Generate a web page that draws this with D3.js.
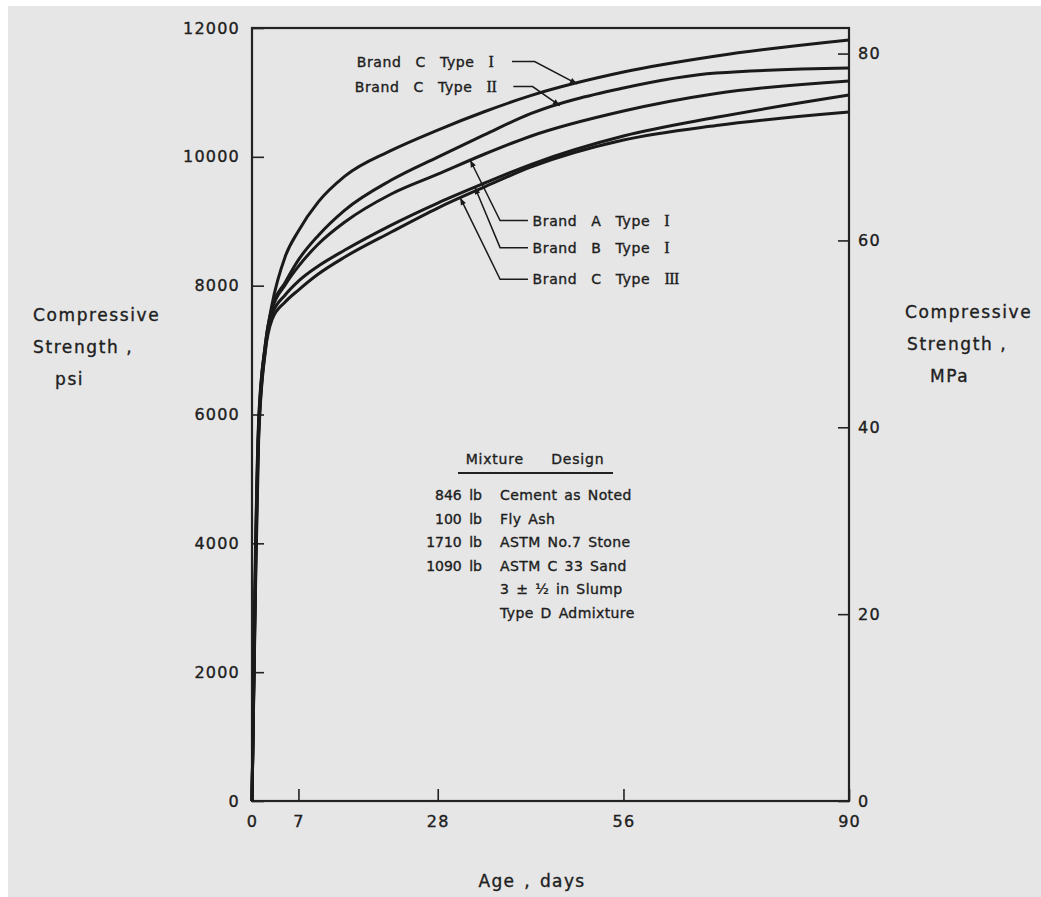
<!DOCTYPE html>
<html>
<head>
<meta charset="utf-8">
<script src="https://cdn.jsdelivr.net/npm/d3@7"></script>
<style>
body{margin:0;background:#fff}
text{font-family:"DejaVu Sans",sans-serif;fill:#202020;stroke:#202020;stroke-width:0.35px}
</style>
</head>
<body>
<svg id="chart"></svg>
<script>
// age in days, strength in psi
var days = [0, 0.5, 1, 2, 3, 5, 7, 10, 14, 21, 28, 35, 42, 56, 70, 90];
var brandCTypeI   = [0, 3740, 5910, 7080, 7700, 8450, 8850, 9300, 9700, 10100, 10416, 10700, 10950, 11316, 11565, 11813];
var brandCTypeII  = [0, 3590, 5840, 7080, 7653, 8050, 8400, 8780, 9174, 9640, 9997, 10340, 10670, 11068, 11301, 11378];
var brandATypeI   = [0, 3430, 5760, 7030, 7622, 8010, 8300, 8646, 8988, 9423, 9730, 10040, 10320, 10711, 10983, 11177];
var brandBTypeI   = [0, 3280, 5680, 7000, 7544, 7855, 8070, 8305, 8553, 8941, 9283, 9590, 9880, 10323, 10613, 10959];
var brandCTypeIII = [0, 3120, 5600, 6970, 7467, 7746, 7932, 8181, 8445, 8833, 9205, 9530, 9840, 10261, 10487, 10695];

var seriesNames = ["Brand C Type I", "Brand C Type II", "Brand A Type I", "Brand B Type I", "Brand C Type III"];
var seriesValues = [brandCTypeI, brandCTypeII, brandATypeI, brandBTypeI, brandCTypeIII];

var xTicks = [0, 7, 28, 56, 90];
var psiTicks = [0, 2000, 4000, 6000, 8000, 10000, 12000];
var mpaTicks = [0, 20, 40, 60, 80];
var psiToMpa = 0.00689476;

var mixtureAmounts = ["846 lb", "100 lb", "1710 lb", "1090 lb", "", ""];
var mixtureItems = ["Cement  as  Noted", "Fly  Ash", "ASTM  No.7  Stone", "ASTM  C 33  Sand", "3 \u00B1 \u00BD  in  Slump", "Type  D  Admixture"];

var makeTranslateString = function(x,y)
{
    return "translate("+x+","+y+")";
}

var screen = {width:1041, height:897};
var margins = {left:252, right:192, top:28, bottom:96};
var graph = {
    width: screen.width-margins.left-margins.right,
    height: screen.height-margins.top-margins.bottom
};

var svg = d3.select("#chart")
    .attr("width", screen.width)
    .attr("height", screen.height);

// scanned paper
svg.append("rect")
    .attr("x", 8).attr("y", 6)
    .attr("width", screen.width-8).attr("height", screen.height-6)
    .attr("fill", "#e6e6e6");

svg.append("defs").append("marker")
    .attr("id", "arrow")
    .attr("viewBox", "0 0 10 10")
    .attr("refX", 10).attr("refY", 5)
    .attr("markerWidth", 10).attr("markerHeight", 7)
    .attr("markerUnits", "userSpaceOnUse")
    .attr("orient", "auto")
    .append("path")
    .attr("d", "M0,1 L10,5 L0,9 Z")
    .attr("fill", "#1a1a1a");

var xScale = d3.scaleLinear().domain([0, 90]).range([0, graph.width]);
var yScale = d3.scaleLinear().domain([0, 12000]).range([graph.height, 0]);
var yMpa = d3.scaleLinear().domain([0, 12000*psiToMpa]).range([graph.height, 0]);

var target = svg.append("g")
    .attr("id", "graph")
    .attr("transform", makeTranslateString(margins.left, margins.top));

// axes, ticks pointing inward
var styleAxis = function(g)
{
    g.select(".domain").remove();
    g.selectAll("line").attr("stroke", "#222").attr("stroke-width", 1.6);
    g.selectAll("text")
        .attr("font-size", 16)
        .attr("letter-spacing", 1.2)
        .attr("fill", "#202020")
        .style("font-family", '"DejaVu Sans",sans-serif');
}

target.append("g")
    .call(d3.axisLeft(yScale).tickValues(psiTicks).tickFormat(d3.format("d")).tickSize(-12).tickPadding(12))
    .call(styleAxis);

target.append("g")
    .attr("transform", makeTranslateString(graph.width, 0))
    .call(d3.axisRight(yMpa).tickValues(mpaTicks).tickFormat(d3.format("d")).tickSize(-11).tickPadding(9))
    .call(styleAxis);

target.append("g")
    .attr("transform", makeTranslateString(0, graph.height))
    .call(d3.axisBottom(xScale).tickValues(xTicks).tickFormat(d3.format("d")).tickSize(-12).tickPadding(15))
    .call(styleAxis);

target.append("rect")
    .attr("width", graph.width)
    .attr("height", graph.height)
    .attr("fill", "none")
    .attr("stroke", "#222")
    .attr("stroke-width", 2.2);

// curves
var lineGenerator = d3.line()
    .x(function(d,i){ return xScale(days[i]); })
    .y(function(d){ return yScale(d); })
    .curve(d3.curveMonotoneX);

target.selectAll(".curve")
    .data(seriesValues)
    .enter()
    .append("path")
    .classed("curve", true)
    .attr("fill", "none")
    .attr("stroke", "#1a1a1a")
    .attr("stroke-width", 3)
    .attr("stroke-linejoin", "round")
    .attr("d", lineGenerator);

// value on a series at a given day
var valueAt = function(values, day)
{
    return d3.scaleLinear().domain(days).range(values)(day);
}

// labels with leaders: text position (day, psi), leader start / elbow day, arrow tip day
var labels = [
    {series:0, day:15.8, psi:11480, start:39.2, elbow:42.6, tip:49.0},
    {series:1, day:15.5, psi:11090, start:39.4, elbow:42.3, tip:46.4},
    {series:2, day:42.3, psi:9010, start:41.6, elbow:37.4, tip:32.9},
    {series:3, day:42.3, psi:8590, start:41.6, elbow:37.4, tip:33.6},
    {series:4, day:42.3, psi:8100, start:41.6, elbow:37.4, tip:31.4}
];

var ann = target.append("g").attr("id", "labels");

labels.forEach(function(l)
{
    var name = seriesNames[l.series];
    var cut = name.lastIndexOf(" ");
    var t = ann.append("text")
        .attr("x", xScale(l.day))
        .attr("y", yScale(l.psi))
        .attr("dy", "0.36em")
        .attr("font-size", 14)
        .attr("letter-spacing", 0.6)
        .attr("word-spacing", 9);
    t.append("tspan").text(name.slice(0, cut) + " ");
    t.append("tspan")
        .style("font-family", '"Liberation Serif",serif')
        .attr("font-size", 16)
        .attr("letter-spacing", -0.5)
        .text(name.slice(cut+1));

    var pts = [
        [xScale(l.start), yScale(l.psi)],
        [xScale(l.elbow), yScale(l.psi)],
        [xScale(l.tip), yScale(valueAt(seriesValues[l.series], l.tip))]
    ];
    ann.append("path")
        .attr("d", d3.line()(pts))
        .attr("fill", "none")
        .attr("stroke", "#1a1a1a")
        .attr("stroke-width", 1.5)
        .attr("marker-end", "url(#arrow)");
});

// mixture design block
var mix = svg.append("g").attr("id", "mixture");
mix.append("text")
    .attr("x", 535).attr("y", 464)
    .attr("text-anchor", "middle")
    .attr("font-size", 14)
    .attr("letter-spacing", 0.8)
    .attr("word-spacing", 22)
    .text("Mixture Design");
mix.append("line")
    .attr("x1", 458).attr("x2", 613)
    .attr("y1", 473).attr("y2", 473)
    .attr("stroke", "#222").attr("stroke-width", 2);

mixtureItems.forEach(function(item, i)
{
    var y = 500 + i*23.5;
    if (mixtureAmounts[i] != "")
    {
        mix.append("text")
            .attr("x", 482).attr("y", y)
            .attr("text-anchor", "end")
            .attr("font-size", 14)
            .attr("word-spacing", 3)
            .text(mixtureAmounts[i]);
    }
    mix.append("text")
        .attr("x", 500).attr("y", y)
        .attr("font-size", 14)
        .attr("letter-spacing", 0.4)
        .attr("word-spacing", 2)
        .text(item);
});

// axis titles
var drawTitle = function(lines, x, y, offsets)
{
    lines.forEach(function(s, i)
    {
        svg.append("text")
            .attr("x", x + offsets[i])
            .attr("y", y + i*32)
            .attr("font-size", 17)
            .attr("letter-spacing", 1.6)
            .text(s);
    });
}
drawTitle(["Compressive", "Strength ,", "psi"], 33, 321, [0, 0, 22]);
drawTitle(["Compressive", "Strength ,", "MPa"], 905, 318, [0, 2, 25]);

svg.append("text")
    .attr("x", 532).attr("y", 887)
    .attr("text-anchor", "middle")
    .attr("font-size", 17)
    .attr("letter-spacing", 1.4)
    .attr("word-spacing", 2)
    .text("Age , days");
</script>
</body>
</html>
